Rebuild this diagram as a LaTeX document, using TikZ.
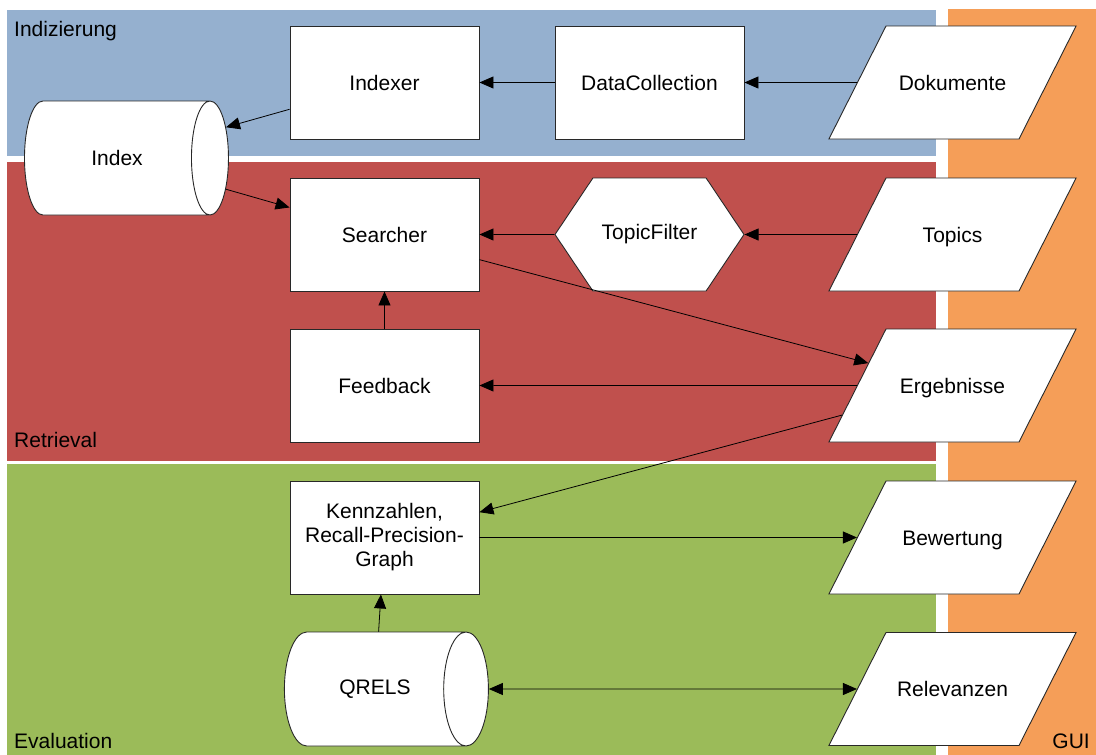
\documentclass[tikz,border=0pt]{standalone}
\usepackage{fontspec}
\setmainfont{Liberation Sans}
\usetikzlibrary{shapes.geometric,shapes.symbols,arrows.meta}
\definecolor{bandblue}{RGB}{149,176,207}
\definecolor{bandred}{RGB}{192,80,77}
\definecolor{bandgreen}{RGB}{155,187,89}
\definecolor{bandorange}{RGB}{245,158,88}
\definecolor{edge}{RGB}{40,40,40}
\begin{document}
\begin{tikzpicture}[x=1pt,y=-1pt,
  font=\fontsize{21}{24}\selectfont,
  box/.style={rectangle, draw=edge, fill=white, line width=0.9pt,
    minimum width=189pt, minimum height=113pt, inner sep=0pt, align=center},
  io/.style={trapezium, trapezium left angle=63.2, trapezium right angle=116.8,
    draw=edge, fill=white, line width=0.9pt,
    text width=133pt, align=center, text height=17pt, text depth=2pt,
    inner xsep=0pt, inner ysep=47pt, minimum width=1pt, minimum height=1pt},
  db/.style={cylinder, shape aspect=2.4, draw=edge, line width=0.9pt,
    cylinder uses custom fill, cylinder body fill=white, cylinder end fill=white,
    minimum width=114pt, minimum height=204pt, inner sep=0pt},
  filter/.style={signal, signal to=east and west, signal pointer angle=112.3,
    draw=edge, fill=white, line width=0.9pt,
    minimum width=189pt, minimum height=113pt, inner sep=0pt},
  conn/.style={-{Triangle[length=14pt,width=12pt]}, line width=0.8pt},
  biconn/.style={{Triangle[length=14pt,width=12pt]}-{Triangle[length=14pt,width=12pt]}, line width=0.8pt},
  lane/.style={anchor=base west, inner sep=0pt}
]
\useasboundingbox (0,0) rectangle (1096,755);
\fill[white] (0,0) rectangle (1096,755);

% swimlanes
\fill[bandblue]   (7,10)   rectangle (936,156);
\fill[bandred]    (7,162)  rectangle (936,461);
\fill[bandgreen]  (7,464)  rectangle (936,755);
\fill[bandorange] (948,9)  rectangle (1096,755);

\node[lane] (lIdx) at (14,36)  {Indizierung};
\node[lane] (lRet) at (14,447) {Retrieval};
\node[lane] (lEva) at (14,748) {Evaluation};
\node[anchor=base east, inner sep=0pt] (lGui) at (1090,748) {GUI};

% indexing
\node[box] (indexer)  at (384.5,82.5) {Indexer};
\node[box] (datacoll) at (649.5,82.5) {DataCollection};
\node[io]  (dok)      at (952.5,82.5) {Dokumente};
\node[db]  (index)    at (117,158)    {Index};

% retrieval
\node[box]    (searcher) at (384.5,234.5) {Searcher};
\node[filter] (tf)       at (649.5,234.5) {TopicFilter};
\node[io]     (topics)   at (952.5,234.5) {Topics};
\node[box]    (feedback) at (384.5,385.5) {Feedback};
\node[io]     (erg)      at (952.5,385.5) {Ergebnisse};

% evaluation
\node[box] (kenn)  at (384.5,537.5) {Kennzahlen,\\Recall-Precision-\\Graph};
\node[io]  (bew)   at (952.5,537.5) {Bewertung};
\node[db]  (qrels) at (375,689)     {QRELS};
\node[io]  (relev) at (952.5,689)   {Relevanzen};

% data flow
\draw[conn] (datacoll) -- (indexer);
\draw[conn] (dok) -- (datacoll);
\draw[conn] (indexer) -- (index);
\draw[conn] (index) -- (searcher);
\draw[conn] (tf) -- (searcher);
\draw[conn] (topics) -- (tf);
\draw[conn] (searcher) -- (erg);
\draw[conn] (feedback) -- (searcher);
\draw[conn] (erg) -- (feedback);
\draw[conn] (erg) -- (kenn);
\draw[conn] (kenn) -- (bew);
\draw[conn] (qrels) -- (kenn);
\draw[biconn] (qrels) -- (relev);
\end{tikzpicture}
\end{document}
